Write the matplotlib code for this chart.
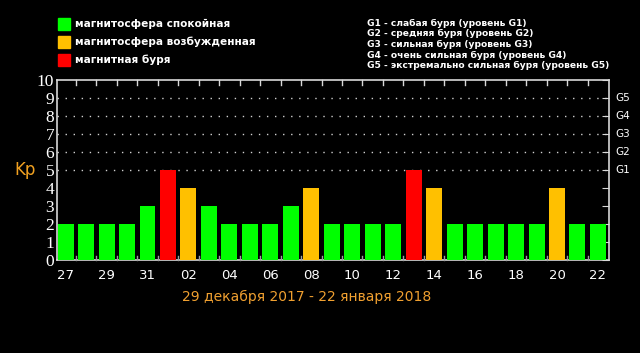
import matplotlib
matplotlib.use("Agg")
import matplotlib.pyplot as plt
from matplotlib.patches import Rectangle

days = ["27", "28", "29", "30", "31", "01", "02", "03", "04", "05", "06", "07", "08", "09",
        "10", "11", "12", "13", "14", "15", "16", "17", "18", "19", "20", "21", "22"]
kp = [2, 2, 2, 2, 3, 5, 4, 3, 2, 2, 2, 3, 4, 2, 2, 2, 2, 5, 4, 2, 2, 2, 2, 2, 4, 2, 2]
legend_labels = ["магнитосфера спокойная", "магнитосфера возбужденная", "магнитная буря"]
g_labels = ["G1", "G2", "G3", "G4", "G5"]
g_desc = ["G1 - слабая буря (уровень G1)",
          "G2 - средняя буря (уровень G2)",
          "G3 - сильная буря (уровень G3)",
          "G4 - очень сильная буря (уровень G4)",
          "G5 - экстремально сильная буря (уровень G5)"]
date_range = "29 декабря 2017 - 22 января 2018"

GREEN, ORANGE, RED = "#00ff00", "#ffc000", "#ff0000"

def color_for(v):
    if v >= 5:
        return RED
    if v == 4:
        return ORANGE
    return GREEN

fig = plt.figure(figsize=(6.4, 3.53), dpi=100, facecolor="black")
ax = fig.add_axes([57/640, 1 - 260/353, (609 - 57)/640, 180/353])
ax.set_facecolor("black")

x = list(range(len(days)))
ax.bar(x, kp, width=0.78, color=[color_for(v) for v in kp], zorder=3)
ax.set_xlim(-0.42, len(days) - 0.46)
ax.set_ylim(0, 10)

for s in ax.spines.values():
    s.set_color("#d8d8d8")
    s.set_linewidth(1.2)

ax.set_yticks(range(0, 11))
ax.set_yticklabels([str(i) for i in range(0, 11)], fontfamily="Liberation Serif",
                   fontsize=12.5, color="white")
ax.tick_params(axis="y", left=False, right=True, direction="in", length=5,
               color="#d8d8d8", pad=2)
ax.set_xticks(x[::2])
ax.set_xticklabels(days[::2], fontsize=9.5, color="white", fontfamily="DejaVu Sans")
ax.tick_params(axis="x", bottom=False, top=False, pad=3)

# small boundary ticks on top and bottom
for i in range(len(days) - 1):
    b = i + 0.5
    ax.plot([b, b], [10, 9.75], color="#d8d8d8", lw=1, zorder=4, clip_on=False)
    ax.plot([b, b], [0, 0.2], color="#a0a0a0", lw=1, zorder=4, clip_on=False)

for g in range(5, 10):
    ax.axhline(g, color="#d0d0d0", lw=1, ls=(0, (1, 4.8)), zorder=1)

for i, g in enumerate(g_labels):
    ax.text(1.012, (5 + i) / 10, g, transform=ax.transAxes, color="white",
            fontsize=7.5, va="center", ha="left", fontfamily="DejaVu Sans")

fig.text(25/640, 1 - 170/353, "Kp", color="#f0a020", fontsize=12, ha="center", va="center")

# legend
for i, lab in enumerate(legend_labels):
    yc = 24 + i * 18
    fig.patches.append(Rectangle((58/640, 1 - (yc + 6)/353), 12/640, 12/353,
                                 transform=fig.transFigure, color=[GREEN, ORANGE, RED][i]))
    fig.text(75/640, 1 - yc/353, lab, color="white", fontsize=7.6, fontweight="bold",
             va="center", ha="left")

for i, d in enumerate(g_desc):
    fig.text(367/640, 1 - (23 + i * 10.7)/353, d, color="white", fontsize=6.6,
             fontweight="bold", va="center", ha="left")

fig.text(307/640, 1 - 297/353, date_range, color="#f0a030", fontsize=10,
         ha="center", va="center")

fig.savefig("out.png", dpi=100, facecolor="black")
